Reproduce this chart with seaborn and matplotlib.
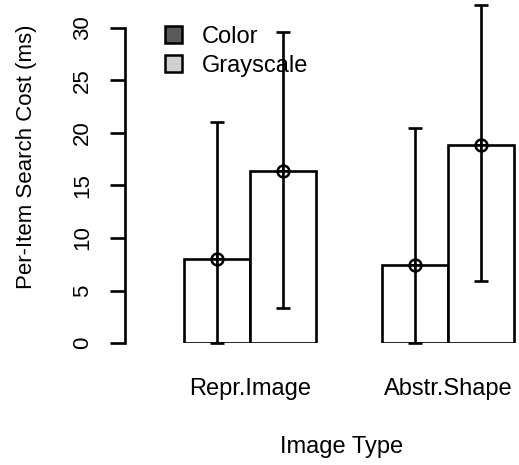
import matplotlib
matplotlib.use("Agg")
import matplotlib.pyplot as plt
from matplotlib.patches import Patch
import seaborn as sns
import pandas as pd

# Per-item search cost (ms) by image type and display mode
image_types = ["Repr.Image", "Abstr.Shape"]
modes = ["Color", "Grayscale"]
color_mean = [8.0, 7.4]
gray_mean = [16.4, 18.9]
color_lower = [0.0, 0.0]
color_upper = [21.0, 20.5]
gray_lower = [3.3, 5.9]
gray_upper = [29.6, 32.2]
y_ticks = [0, 5, 10, 15, 20, 25, 30]

sns.set_style("white")
plt.rcParams["font.family"] = ["Liberation Sans", "DejaVu Sans"]
plt.rcParams["text.color"] = "black"
plt.rcParams["axes.labelcolor"] = "black"
plt.rcParams["xtick.color"] = "black"
plt.rcParams["ytick.color"] = "black"

df = pd.DataFrame({
    "image_type": image_types * 2,
    "mode": [modes[0]] * 2 + [modes[1]] * 2,
    "cost": color_mean + gray_mean,
})
means = {"Color": color_mean, "Grayscale": gray_mean}
lowers = {"Color": color_lower, "Grayscale": gray_lower}
uppers = {"Color": color_upper, "Grayscale": gray_upper}

W, H = 519, 465
LW = 1.9
fig = plt.figure(figsize=(W / 100, H / 100), dpi=100)
ax = fig.add_axes([125 / W, 122 / H, 394 / W, 343 / H])

sns.barplot(data=df, x="image_type", y="cost", hue="mode",
            order=image_types, hue_order=modes, width=2 / 3,
            palette={"Color": "white", "Grayscale": "white"},
            edgecolor="black", linewidth=LW, errorbar=None,
            legend=False, ax=ax)

for container, mode in zip(ax.containers, modes):
    for bar, m, lo, hi in zip(container, means[mode], lowers[mode], uppers[mode]):
        cx = bar.get_x() + bar.get_width() / 2
        ax.errorbar(cx, m, yerr=[[m - lo], [hi - m]], fmt="none",
                    ecolor="black", elinewidth=LW, capsize=4.8,
                    capthick=LW, clip_on=False, zorder=3)
        ax.plot(cx, m, marker="o", ms=8.5, mfc="none", mec="black",
                mew=1.8, clip_on=False, zorder=4)
        ax.plot(cx, m, marker="+", ms=8.5, mec="black", mew=1.4,
                clip_on=False, zorder=4)

ax.set_xlim(-0.631, 1.359)
ax.set_ylim(0, 343 / 10.5)
ax.set_yticks(y_ticks)
ax.set_yticklabels([str(t) for t in y_ticks])

for side in ["top", "right", "bottom"]:
    ax.spines[side].set_visible(False)
ax.spines["left"].set_bounds(0, 30)
ax.spines["left"].set_linewidth(LW)
ax.spines["left"].set_color("black")

ax.tick_params(axis="y", length=10.8, width=LW, color="black",
               pad=12, labelsize=16, labelrotation=90, left=True)
for lab in ax.get_yticklabels():
    lab.set_va("center")
ax.tick_params(axis="x", length=0, pad=25, labelsize=17)

ax.set_xlabel("Image Type", fontsize=17, va="center")
ax.xaxis.set_label_coords((342 - 125) / 394, (343 - 447) / 343)
ax.set_ylabel("Per-Item Search Cost (ms)", fontsize=16, va="center")
ax.yaxis.set_label_coords((26 - 125) / 394, (343 - 157) / 343)

handles = [Patch(facecolor="#5a5a5a", edgecolor="black", linewidth=1.8),
           Patch(facecolor="#cfcfcf", edgecolor="black", linewidth=1.8)]
ax.legend(handles, modes, loc="upper left",
          bbox_to_anchor=(165 / W, 1 - 26 / H), bbox_transform=fig.transFigure,
          frameon=False, fontsize=17, handlelength=0.72, handleheight=0.72,
          handletextpad=0.85, labelspacing=0.3, borderpad=0, borderaxespad=0)

fig.savefig("out.png", dpi=100)
